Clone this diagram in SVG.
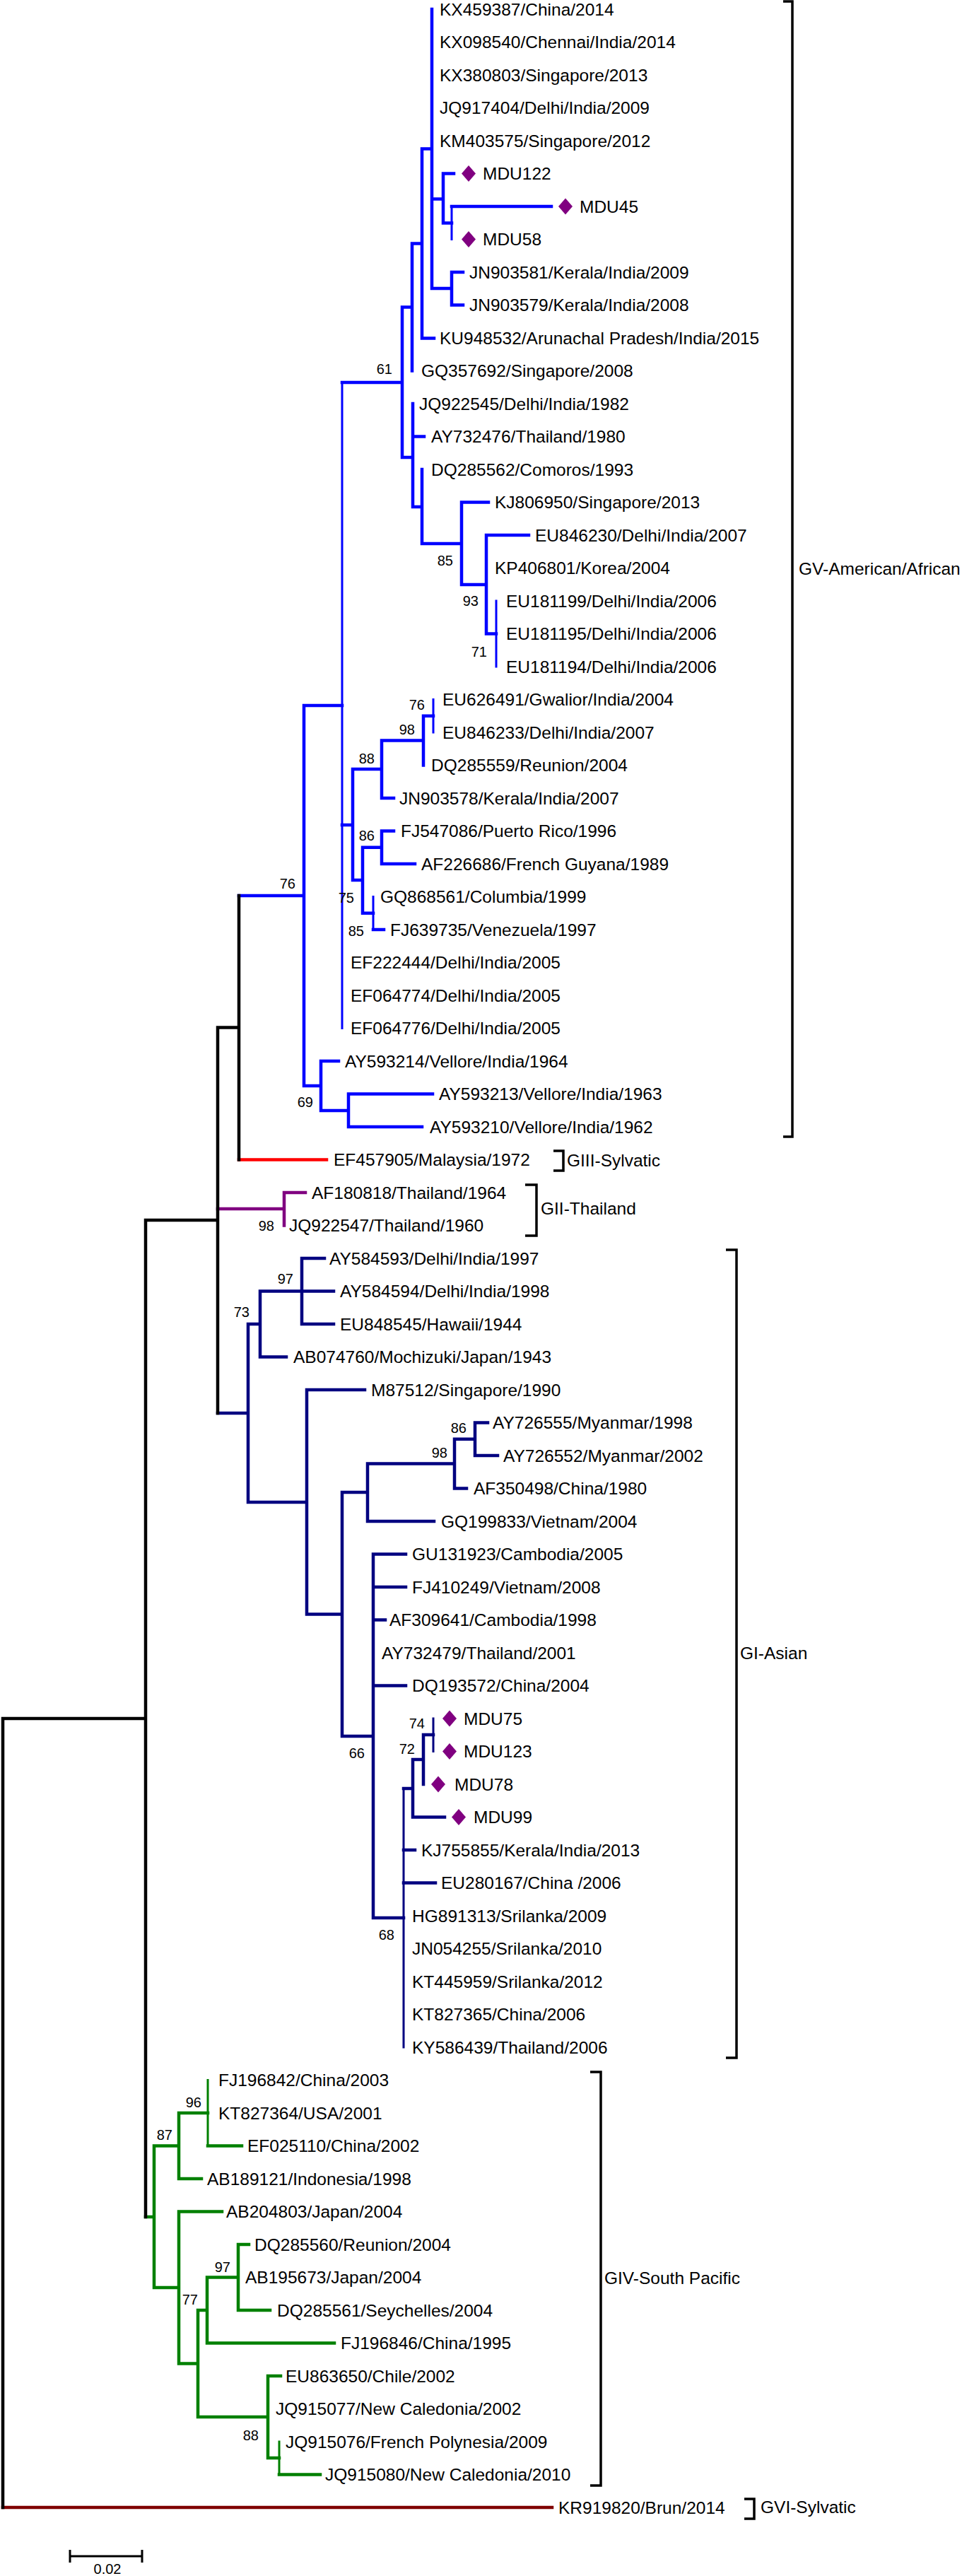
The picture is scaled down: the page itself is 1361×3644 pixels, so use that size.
<svg xmlns="http://www.w3.org/2000/svg" width="1361" height="3644" viewBox="0 0 1361 3644">
<style>
text{font-family:"Liberation Sans",Arial,sans-serif;fill:#000}
.t{font-size:24.5px}
.b{font-size:20px;text-anchor:end}
.br{fill:none;stroke:#000;stroke-width:3.5}
.e{fill:none;stroke-width:4.5;stroke-linecap:square}
.th{stroke-width:3}
.gv{stroke:#0000ff}.bk{stroke:#000}.g3{stroke:#ff0000}.g2{stroke:#800080}.g1{stroke:#000080}.g4{stroke:#008000}.g6{stroke:#800000}
.dm{fill:#800080}
</style>
<rect width="1361" height="3644" fill="#fff"/>
<g id="connectors">
<path class="e gv" d="M611,13V408M611,281.5H627M611,408H639M627,245.5V315.5M627,245.5H642M627,315.5H639M639,292H780M639,385V431.5M639,385H655M639,431.5H655M597,210.5V478.5M597,210.5H611M597,478.5H614M583,344.5V524.5M583,344.5H597M569,434.5V647M569,434.5H583M569,647H584M584,571V717M584,617.5H600M584,717H597M597,664V769M597,769H653M653,710.5V827M653,710.5H691M653,827H688M688,757V896.5M688,757H748M688,896.5H702M484,541H569M484,1167H499M499,1088V1245M499,1088H540M499,1245H513M540,1047.5V1129M540,1129H557M540,1047.5H599M599,1012.75V1082.5M599,1012.75H613M513,1198.75V1291.75M513,1198.75H540M513,1291.75H528M540,1175.5V1222M540,1175.5H557M540,1222H587M528,1315H543M454,1501V1571M454,1501H479M454,1571H493M493,1547.5V1594M493,1547.5H612M493,1594H597M430,998V1536M430,998H484M430,1536H454M338,1267H430"/>
<path class="e gv th" d="M639,292V338.5M702,850V943M484,541V1454.5M613,989.5V1036M528,1268.5V1315"/>
<path class="e g3" d="M338,1640.5H462"/>
<path class="e g2" d="M308,1710H402M402,1687V1733.5M402,1687H432"/>
<path class="e g1" d="M308,1999H351M351,1873V2125M351,1873H368M351,2125H434M368,1826.5V1919.5M368,1826.5H427M368,1919.5H405M427,1780V1873M427,1780H459M427,1826.5H472M427,1873H472M434,1966V2283.5M434,1966H516M434,2283.5H484M484,2111V2456M484,2111H520M484,2456H528M520,2070.5V2152M520,2070.5H643M520,2152H614M643,2035.75V2105.5M643,2035.75H672M643,2105.5H660M672,2012.5V2059M672,2012.5H690M672,2059H704M528,2198.5V2713M528,2198.5H574M528,2245H574M528,2291.5H545M528,2384.5H574M528,2713H571M571,2530H584M571,2617H587M571,2663.5H616M584,2489V2570.5M584,2489H599M584,2570.5H629M599,2454V2524M599,2454H613"/>
<path class="e g1 th" d="M571,2530V2896M613,2431V2477.5"/>
<path class="e g4" d="M206,3136H218M218,3035.5V3236M218,3035.5H253M218,3236H253M253,2989V3082M253,2989H294M253,3082H285M294,3035.5H342M253,3128.5V3343.5M253,3128.5H314M253,3343.5H280M280,3268V3419M280,3268H293M280,3419H379M293,3221.5V3314.5M293,3221.5H337M293,3314.5H473M337,3175V3268M337,3175H352M337,3268H382M379,3361V3477M379,3361H397M379,3477H395M395,3500.5H453"/>
<path class="e g4 th" d="M294,2942.5V3035.5M395,3454V3500.5"/>
<path class="e g6" d="M4,3547H781"/>
<path class="e bk" d="M338,1267V1640.5M308,1453.6H338M308,1453.6V1999M206,1726H308M206,1726V3136M4,2431H206M4,2431V3547"/>
</g>
<g id="bootstrap">
<text class="b" x="555" y="529">61</text>
<text class="b" x="641" y="800">85</text>
<text class="b" x="677" y="857">93</text>
<text class="b" x="689" y="929">71</text>
<text class="b" x="601" y="1004">76</text>
<text class="b" x="587" y="1039">98</text>
<text class="b" x="530" y="1080">88</text>
<text class="b" x="530" y="1189">86</text>
<text class="b" x="418" y="1257">76</text>
<text class="b" x="501" y="1277">75</text>
<text class="b" x="515" y="1324">85</text>
<text class="b" x="443" y="1566">69</text>
<text class="b" x="388" y="1741">98</text>
<text class="b" x="415" y="1816">97</text>
<text class="b" x="353" y="1863">73</text>
<text class="b" x="660" y="2027">86</text>
<text class="b" x="633" y="2062">98</text>
<text class="b" x="601" y="2445">74</text>
<text class="b" x="587" y="2481">72</text>
<text class="b" x="516" y="2487">66</text>
<text class="b" x="558" y="2744">68</text>
<text class="b" x="285" y="2981">96</text>
<text class="b" x="244" y="3027">87</text>
<text class="b" x="326" y="3214">97</text>
<text class="b" x="280" y="3260">77</text>
<text class="b" x="366" y="3452">88</text>
</g>
<g id="leaves">
<g id="n1"><text class="t" x="622" y="21.5">KX459387/China/2014</text></g>
<g id="n2"><text class="t" x="622" y="68">KX098540/Chennai/India/2014</text></g>
<g id="n3"><text class="t" x="622" y="114.5">KX380803/Singapore/2013</text></g>
<g id="n4"><text class="t" x="622" y="161">JQ917404/Delhi/India/2009</text></g>
<g id="n5"><text class="t" x="622" y="207.5">KM403575/Singapore/2012</text></g>
<g id="n6"><polygon class="dm" points="663,234 673,245.5 663,257 653,245.5"/><text class="t" x="683" y="254">MDU122</text></g>
<g id="n7"><polygon class="dm" points="800,280.5 810,292 800,303.5 790,292"/><text class="t" x="820" y="300.5">MDU45</text></g>
<g id="n8"><polygon class="dm" points="663,327 673,338.5 663,350 653,338.5"/><text class="t" x="683" y="347">MDU58</text></g>
<g id="n9"><text class="t" x="664" y="393.5">JN903581/Kerala/India/2009</text></g>
<g id="n10"><text class="t" x="664" y="440">JN903579/Kerala/India/2008</text></g>
<g id="n11"><text class="t" x="622" y="486.5">KU948532/Arunachal Pradesh/India/2015</text></g>
<g id="n12"><text class="t" x="596" y="533">GQ357692/Singapore/2008</text></g>
<g id="n13"><text class="t" x="593" y="579.5">JQ922545/Delhi/India/1982</text></g>
<g id="n14"><text class="t" x="610" y="626">AY732476/Thailand/1980</text></g>
<g id="n15"><text class="t" x="610" y="672.5">DQ285562/Comoros/1993</text></g>
<g id="n16"><text class="t" x="700" y="719">KJ806950/Singapore/2013</text></g>
<g id="n17"><text class="t" x="757" y="765.5">EU846230/Delhi/India/2007</text></g>
<g id="n18"><text class="t" x="700" y="812">KP406801/Korea/2004</text></g>
<g id="n19"><text class="t" x="716" y="858.5">EU181199/Delhi/India/2006</text></g>
<g id="n20"><text class="t" x="716" y="905">EU181195/Delhi/India/2006</text></g>
<g id="n21"><text class="t" x="716" y="951.5">EU181194/Delhi/India/2006</text></g>
<g id="n22"><text class="t" x="626" y="998">EU626491/Gwalior/India/2004</text></g>
<g id="n23"><text class="t" x="626" y="1044.5">EU846233/Delhi/India/2007</text></g>
<g id="n24"><text class="t" x="610" y="1091">DQ285559/Reunion/2004</text></g>
<g id="n25"><text class="t" x="565" y="1137.5">JN903578/Kerala/India/2007</text></g>
<g id="n26"><text class="t" x="567" y="1184">FJ547086/Puerto Rico/1996</text></g>
<g id="n27"><text class="t" x="596" y="1230.5">AF226686/French Guyana/1989</text></g>
<g id="n28"><text class="t" x="538" y="1277">GQ868561/Columbia/1999</text></g>
<g id="n29"><text class="t" x="552" y="1323.5">FJ639735/Venezuela/1997</text></g>
<g id="n30"><text class="t" x="496" y="1370">EF222444/Delhi/India/2005</text></g>
<g id="n31"><text class="t" x="496" y="1416.5">EF064774/Delhi/India/2005</text></g>
<g id="n32"><text class="t" x="496" y="1463">EF064776/Delhi/India/2005</text></g>
<g id="n33"><text class="t" x="488" y="1509.5">AY593214/Vellore/India/1964</text></g>
<g id="n34"><text class="t" x="621" y="1556">AY593213/Vellore/India/1963</text></g>
<g id="n35"><text class="t" x="608" y="1602.5">AY593210/Vellore/India/1962</text></g>
<g id="n36"><text class="t" x="472" y="1649">EF457905/Malaysia/1972</text></g>
<g id="n37"><text class="t" x="441" y="1695.5">AF180818/Thailand/1964</text></g>
<g id="n38"><text class="t" x="409" y="1742">JQ922547/Thailand/1960</text></g>
<g id="n39"><text class="t" x="466" y="1788.5">AY584593/Delhi/India/1997</text></g>
<g id="n40"><text class="t" x="481" y="1835">AY584594/Delhi/India/1998</text></g>
<g id="n41"><text class="t" x="481" y="1881.5">EU848545/Hawaii/1944</text></g>
<g id="n42"><text class="t" x="415" y="1928">AB074760/Mochizuki/Japan/1943</text></g>
<g id="n43"><text class="t" x="525" y="1974.5">M87512/Singapore/1990</text></g>
<g id="n44"><text class="t" x="697" y="2021">AY726555/Myanmar/1998</text></g>
<g id="n45"><text class="t" x="712" y="2067.5">AY726552/Myanmar/2002</text></g>
<g id="n46"><text class="t" x="670" y="2114">AF350498/China/1980</text></g>
<g id="n47"><text class="t" x="624" y="2160.5">GQ199833/Vietnam/2004</text></g>
<g id="n48"><text class="t" x="583" y="2207">GU131923/Cambodia/2005</text></g>
<g id="n49"><text class="t" x="583" y="2253.5">FJ410249/Vietnam/2008</text></g>
<g id="n50"><text class="t" x="551" y="2300">AF309641/Cambodia/1998</text></g>
<g id="n51"><text class="t" x="540" y="2346.5">AY732479/Thailand/2001</text></g>
<g id="n52"><text class="t" x="583" y="2393">DQ193572/China/2004</text></g>
<g id="n53"><polygon class="dm" points="636,2419.5 646,2431 636,2442.5 626,2431"/><text class="t" x="656" y="2439.5">MDU75</text></g>
<g id="n54"><polygon class="dm" points="636,2466 646,2477.5 636,2489 626,2477.5"/><text class="t" x="656" y="2486">MDU123</text></g>
<g id="n55"><polygon class="dm" points="620,2512.5 630,2524 620,2535.5 610,2524"/><text class="t" x="643" y="2532.5">MDU78</text></g>
<g id="n56"><polygon class="dm" points="649,2559 659,2570.5 649,2582 639,2570.5"/><text class="t" x="670" y="2579">MDU99</text></g>
<g id="n57"><text class="t" x="596" y="2625.5">KJ755855/Kerala/India/2013</text></g>
<g id="n58"><text class="t" x="624" y="2672">EU280167/China /2006</text></g>
<g id="n59"><text class="t" x="583" y="2718.5">HG891313/Srilanka/2009</text></g>
<g id="n60"><text class="t" x="583" y="2765">JN054255/Srilanka/2010</text></g>
<g id="n61"><text class="t" x="583" y="2811.5">KT445959/Srilanka/2012</text></g>
<g id="n62"><text class="t" x="583" y="2858">KT827365/China/2006</text></g>
<g id="n63"><text class="t" x="583" y="2904.5">KY586439/Thailand/2006</text></g>
<g id="n64"><text class="t" x="309" y="2951">FJ196842/China/2003</text></g>
<g id="n65"><text class="t" x="309" y="2997.5">KT827364/USA/2001</text></g>
<g id="n66"><text class="t" x="350" y="3044">EF025110/China/2002</text></g>
<g id="n67"><text class="t" x="293" y="3090.5">AB189121/Indonesia/1998</text></g>
<g id="n68"><text class="t" x="320" y="3137">AB204803/Japan/2004</text></g>
<g id="n69"><text class="t" x="360" y="3183.5">DQ285560/Reunion/2004</text></g>
<g id="n70"><text class="t" x="347" y="3230">AB195673/Japan/2004</text></g>
<g id="n71"><text class="t" x="392" y="3276.5">DQ285561/Seychelles/2004</text></g>
<g id="n72"><text class="t" x="482" y="3323">FJ196846/China/1995</text></g>
<g id="n73"><text class="t" x="404" y="3369.5">EU863650/Chile/2002</text></g>
<g id="n74"><text class="t" x="390" y="3416">JQ915077/New Caledonia/2002</text></g>
<g id="n75"><text class="t" x="404" y="3462.5">JQ915076/French Polynesia/2009</text></g>
<g id="n76"><text class="t" x="460" y="3509">JQ915080/New Caledonia/2010</text></g>
<g id="n77"><text class="t" x="790" y="3555.5">KR919820/Brun/2014</text></g>
</g>
<g id="groups">
<g id="gV"><path class="br" d="M1108,2H1121V1608H1108"/><text class="t" x="1130" y="813">GV-American/African</text></g>
<g id="gIII"><path class="br" d="M783,1628H797V1656H783"/><text class="t" x="802" y="1650">GIII-Sylvatic</text></g>
<g id="gII"><path class="br" d="M743,1676H759V1748H743"/><text class="t" x="765" y="1718">GII-Thailand</text></g>
<g id="gI"><path class="br" d="M1027,1768H1042V2911H1027"/><text class="t" x="1047" y="2347">GI-Asian</text></g>
<g id="gIV"><path class="br" d="M835,2931H850V3516H835"/><text class="t" x="855" y="3231">GIV-South Pacific</text></g>
<g id="gVI"><path class="br" d="M1053,3535H1067V3563H1053"/><text class="t" x="1076" y="3555">GVI-Sylvatic</text></g>
</g>
<g id="scalebar">
<path fill="none" stroke="#000" stroke-width="3" d="M99,3616H201M99,3607V3625M201,3607V3625"/>
<text x="152" y="3641" font-size="20" text-anchor="middle">0.02</text>
</g>
</svg>
